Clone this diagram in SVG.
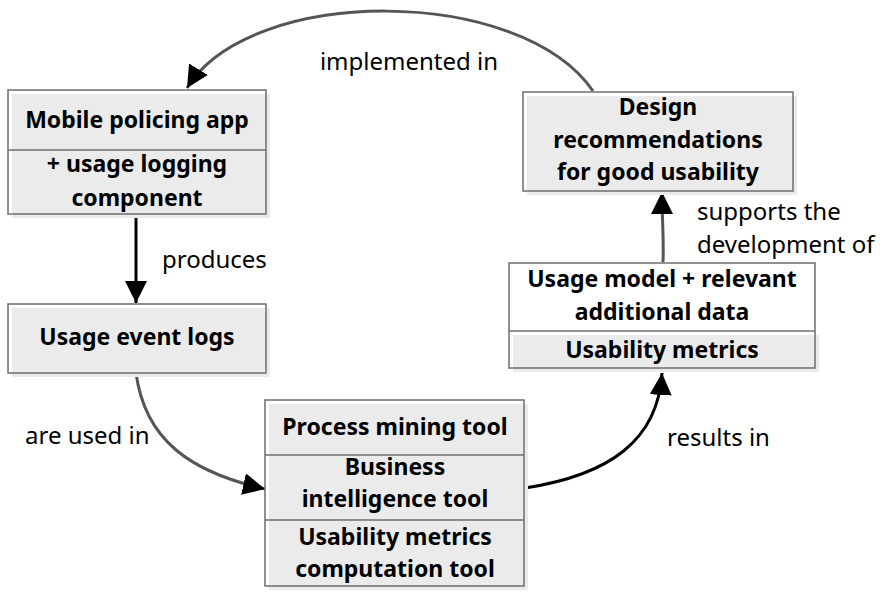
<svg xmlns="http://www.w3.org/2000/svg" width="882" height="596" viewBox="0 0 882 596">
  <style>
    .fill { fill: #ebebeb; stroke: none; }
    .frame { fill: none; stroke: #6e6e6e; stroke-width: 1.5; }
    .bt { font-family: "Noto Sans", "Open Sans", sans-serif; font-weight: bold; font-size: 23px; fill: #000; text-anchor: middle; }
    .lt { font-family: "Noto Sans", "Open Sans", sans-serif; font-size: 24px; fill: #000; }
    .gray { fill: none; stroke: #555; stroke-width: 3; }
    .black { fill: none; stroke: #000; stroke-width: 3; }
  </style>
  <defs>
    <!-- filled triangular arrowhead, tip at the path end -->
    <marker id="arrow" viewBox="0 0 10 10" refX="10" refY="5" markerWidth="22" markerHeight="22" markerUnits="userSpaceOnUse" orient="auto">
      <path d="M0,0 L10,5 L0,10 z" fill="#000"/>
    </marker>
  </defs>
  <rect width="882" height="596" fill="#fff"/>

  <g id="connectors">
    <path class="gray" d="M593,91 C520,-15 250,-15 187,88" marker-end="url(#arrow)"/>
    <path class="black" d="M136,214 L136,303" marker-end="url(#arrow)"/>
    <path class="gray" d="M136,373 C145,440 190,472 265,489" marker-end="url(#arrow)"/>
    <path class="black" d="M525,488 C610,475 658,440 662,373" marker-end="url(#arrow)"/>
    <path class="gray" d="M663,262 C664,240 662,220 662,192" marker-end="url(#arrow)"/>
  </g>

  <g id="labels">
    <text class="lt" x="409" y="70" text-anchor="middle">implemented in</text>
    <text class="lt" x="162" y="268">produces</text>
    <text class="lt" x="697" y="220">supports the</text>
    <text class="lt" x="697" y="253">development of</text>
    <text class="lt" x="25" y="444">are used in</text>
    <text class="lt" x="667" y="446">results in</text>
  </g>

  <g id="mobile-app">
    <rect class="fill" x="12" y="94" width="258" height="124"/>
    <rect class="frame" x="8" y="90" width="258" height="124"/>
    <line class="frame" x1="8" y1="150" x2="266" y2="150"/>
    <text class="bt" x="137" y="128">Mobile policing app</text>
    <text class="bt" x="137" y="172">+ usage logging</text>
    <text class="bt" x="137" y="206">component</text>
  </g>

  <g id="design-recommendations">
    <rect class="fill" x="527" y="96" width="270" height="99"/>
    <rect class="frame" x="523" y="92" width="270" height="99"/>
    <text class="bt" x="658" y="115">Design</text>
    <text class="bt" x="658" y="148">recommendations</text>
    <text class="bt" x="658" y="180">for good usability</text>
  </g>

  <g id="usage-model">
    <rect class="fill" x="513" y="335" width="306" height="37"/>
    <rect class="frame" x="509" y="263" width="306" height="105"/>
    <line class="frame" x1="509" y1="331" x2="815" y2="331"/>
    <text class="bt" x="662" y="287">Usage model + relevant</text>
    <text class="bt" x="662" y="320">additional data</text>
    <text class="bt" x="662" y="358">Usability metrics</text>
  </g>

  <g id="usage-event-logs">
    <rect class="fill" x="12" y="308" width="258" height="69"/>
    <rect class="frame" x="8" y="304" width="258" height="69"/>
    <text class="bt" x="137" y="345">Usage event logs</text>
  </g>

  <g id="tools">
    <rect class="fill" x="269" y="404" width="259" height="186"/>
    <rect class="frame" x="265" y="400" width="259" height="186"/>
    <line class="frame" x1="265" y1="455" x2="524" y2="455"/>
    <line class="frame" x1="265" y1="520" x2="524" y2="520"/>
    <text class="bt" x="395" y="435">Process mining tool</text>
    <text class="bt" x="395" y="475">Business</text>
    <text class="bt" x="395" y="507">intelligence tool</text>
    <text class="bt" x="395" y="545">Usability metrics</text>
    <text class="bt" x="395" y="577">computation tool</text>
  </g>
</svg>
